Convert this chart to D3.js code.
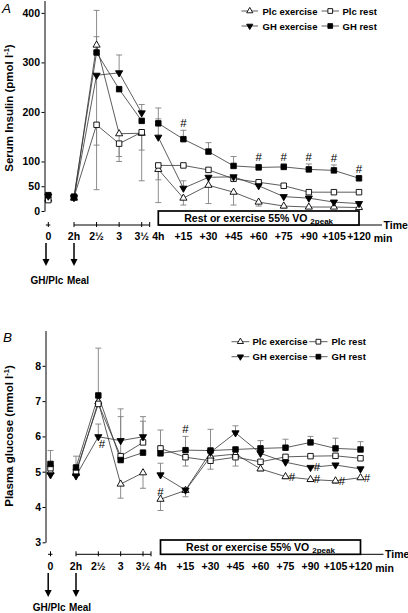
<!DOCTYPE html>
<html><head><meta charset="utf-8">
<script src="https://cdn.jsdelivr.net/npm/d3@7"></script>
<style>
html,body{margin:0;padding:0;background:#fff;}
svg{display:block;font-family:"Liberation Sans",Arial,sans-serif;}
</style></head><body>
<svg id="c" width="408" height="613"></svg>
<script>
// ---------- data ----------
const times = [0, 120, 150, 180, 210, 240, 255, 270, 285, 300, 315, 330, 345, 360]; // minutes
const tickLabels = ["0", "2h", "2½", "3", "3½", "4h", "+15", "+30", "+45", "+60", "+75", "+90", "+105", "+120"];
const lineSegments = [[0, 0], [120, 210], [240, 360]]; // connected time blocks
const seriesNames = ["Plc exercise", "Plc rest", "GH exercise", "GH rest"];
const insulinTicks = [0, 50, 100, 200, 300, 400];
const glucoseTicks = [3, 4, 5, 6, 7, 8];

// Serum insulin (pmol/l)
const insulinPlcExercise = [24, 26, 335, 156, 157, 84, 26, 52, 38, 18, 10, 8, 8, 7];
const insulinPlcRest     = [22, 28, 174, 136, 159, 92, 92, 83, 65, 58, 51, 38, 38, 38];
const insulinGHExercise  = [30, 27, 274, 279, 198, 149, 46, 68, 69, 51, 29, 26, 18, 15];
const insulinGHRest      = [32, 29, 320, 246, 182, 177, 145, 120, 91, 88, 89, 84, 82, 66];
const insulinPlcExerciseErrUp   = [0, 0, 70, 0, 0, 0, 0, 0, 0, 0, 0, 0, 0, 0];
const insulinPlcExerciseErrDown = [0, 4, 0, 46, 34, 21, 14, 37, 26, 8, 4, 3, 3, 3];
const insulinPlcRestErrUp       = [0, 0, 0, 0, 0, 0, 0, 0, 0, 0, 0, 0, 0, 0];
const insulinPlcRestErrDown     = [0, 6, 131, 36, 98, 75, 0, 0, 0, 0, 0, 0, 0, 0];
const insulinGHExerciseErrUp    = [0, 0, 0, 36, 17, 37, 15, 0, 0, 0, 0, 0, 0, 0];
const insulinGHExerciseErrDown  = [0, 0, 141, 0, 0, 0, 0, 0, 0, 0, 0, 0, 0, 0];
const insulinGHRestErrUp        = [0, 4, 32, 0, 0, 31, 18, 18, 19, 6, 6, 11, 11, 4];
const insulinGHRestErrDown      = [0, 0, 0, 0, 0, 0, 0, 0, 0, 0, 0, 0, 0, 0];
const insulinHashes = [
  {series: "GH rest", time: 255, place: "above"}, {series: "GH rest", time: 300, place: "above"},
  {series: "GH rest", time: 315, place: "above"}, {series: "GH rest", time: 330, place: "above"},
  {series: "GH rest", time: 345, place: "above"}, {series: "GH rest", time: 360, place: "above"}
];

// Plasma glucose (mmol/l)
const glucosePlcExercise = [5.0, 4.95, 6.98, 4.65, 4.97, 4.22, 4.47, 5.43, 5.5, 5.08, 4.86, 4.78, 4.74, 4.83];
const glucosePlcRest     = [5.1, 5.0, 6.92, 5.44, 5.83, 5.66, 5.41, 5.31, 5.41, 5.28, 5.42, 5.44, 5.45, 5.38];
const glucoseGHExercise  = [4.91, 4.88, 5.99, 5.88, 5.99, 4.91, 4.48, 5.55, 6.1, 5.52, 5.27, 5.12, 5.19, 5.08];
const glucoseGHRest      = [5.22, 5.12, 7.16, 5.33, 5.54, 5.52, 5.61, 5.6, 5.63, 5.66, 5.68, 5.83, 5.66, 5.63];
const glucosePlcExerciseErrUp   = [0, 0, 1.52, 0, 0, 0, 0, 0, 0, 0, 0, 0, 0, 0];
const glucosePlcExerciseErrDown = [0, 0, 0, 0.4, 0.44, 0.32, 0.18, 0, 0, 0.06, 0.06, 0.06, 0.07, 0.05];
const glucosePlcRestErrUp       = [0, 0, 0, 1.12, 0.6, 0.52, 0, 0, 0, 0, 0, 0, 0, 0];
const glucosePlcRestErrDown     = [0, 0, 0, 0, 0, 0, 0.25, 0.24, 0.25, 0, 0, 0, 0, 0];
const glucoseGHExerciseErrUp    = [0, 0, 0.36, 0.9, 0.57, 0.33, 0, 0, 0.2, 0, 0, 0, 0, 0];
const glucoseGHExerciseErrDown  = [0, 0, 0, 0, 0, 0, 0, 0, 0, 0, 0, 0, 0, 0];
const glucoseGHRestErrUp        = [0.38, 0.32, 0, 0, 0, 0, 0.39, 0.6, 0, 0.22, 0.24, 0.17, 0.29, 0.22];
const glucoseGHRestErrDown      = [0, 0, 0, 0, 0, 0, 0, 0, 0, 0, 0, 0, 0, 0];
const glucoseHashes = [
  {series: "GH exercise", time: 150, place: "belowright"},
  {series: "Plc exercise", time: 240, place: "above"},
  {series: "GH rest", time: 255, place: "above"},
  {series: "GH exercise", time: 330, place: "right"},
  {series: "Plc exercise", time: 315, place: "right"}, {series: "Plc exercise", time: 330, place: "right"},
  {series: "Plc exercise", time: 345, place: "right"}, {series: "Plc exercise", time: 360, place: "right"}
];

// ---------- drawing ----------
const svg = d3.select("#c");
const symbolStyles = {
  "Plc exercise": {type: d3.symbolTriangle, size: 22, fill: "#fff", rot: 0},
  "Plc rest":     {type: d3.symbolSquare, size: 30, fill: "#fff", rot: 0},
  "GH exercise":  {type: d3.symbolTriangle, size: 22, fill: "#000", rot: 180},
  "GH rest":      {type: d3.symbolSquare, size: 30, fill: "#000", rot: 0}
};

function drawMarker(g, name, cx, cy, scale) {
  const st = symbolStyles[name];
  g.append("path")
    .attr("d", d3.symbol().type(st.type).size(st.size * (scale || 1))())
    .attr("transform", `translate(${cx},${cy}) rotate(${st.rot})`)
    .attr("fill", st.fill).attr("stroke", "#000").attr("stroke-width", 0.9);
}

function drawPanel(p) {
  const g = svg.append("g");
  const x = p.x, y = p.y;

  // panel letter
  g.append("text").attr("x", p.letterPos[0]).attr("y", p.letterPos[1])
    .attr("font-size", 13.5).attr("font-style", "italic").text(p.letter);

  // y axis
  const ax = g.append("g").attr("transform", `translate(${p.yAxisX},0)`)
    .call(d3.axisLeft(y).tickValues(p.yTicks).tickFormat(d => String(d)).tickSize(3).tickSizeOuter(0).tickPadding(1.5));
  ax.select(".domain").attr("stroke", "#000").attr("stroke-width", 1);
  ax.selectAll(".tick line").attr("stroke", "#000").attr("stroke-width", 1);
  ax.selectAll(".tick text").attr("font-size", 10.5).attr("font-weight", "bold")
    .attr("font-family", "Liberation Sans, Arial, sans-serif").attr("fill", "#000");

  // y title
  const tt = g.append("text")
    .attr("transform", `translate(${p.titlePos[0]},${p.titlePos[1]}) rotate(-90)`)
    .attr("text-anchor", "middle").attr("font-size", 11.5).attr("font-weight", "bold");
  tt.append("tspan").text(p.title);
  tt.append("tspan").attr("font-size", 7.5).attr("dy", -4.5).text("-1");
  tt.append("tspan").attr("dy", 4.5).text(")");

  // broken x axis
  const axisY = p.xAxisY;
  const ax0 = x(lineSegments[0][0]);
  g.append("line").attr("x1", ax0 - 2.5).attr("x2", ax0 + 2).attr("y1", axisY).attr("y2", axisY).attr("stroke", "#000");
  g.append("line").attr("x1", ax0).attr("x2", ax0).attr("y1", axisY - 3).attr("y2", axisY + 2).attr("stroke", "#000");
  const s1a = x(lineSegments[1][0]), s1b = x(lineSegments[1][1]) + 8;
  g.append("line").attr("x1", s1a).attr("x2", s1b).attr("y1", axisY).attr("y2", axisY).attr("stroke", "#000");
  times.filter(t => t >= lineSegments[1][0] && t <= lineSegments[1][1]).map(x).concat([s1b]).forEach(px => {
    g.append("line").attr("x1", px).attr("x2", px).attr("y1", axisY - 3).attr("y2", axisY + 2).attr("stroke", "#000");
  });
  const s2a = x(lineSegments[2][0]), s2b = x(lineSegments[2][1]);
  g.append("line").attr("x1", s2a).attr("x2", s2b + 23).attr("y1", axisY).attr("y2", axisY).attr("stroke", "#000");
  g.append("text").attr("x", s2b + 24.5).attr("y", axisY + 4).attr("font-size", 10.5).attr("font-weight", "bold").text("Time");

  // rest / exercise box
  g.append("rect").attr("x", s2a).attr("y", p.boxTop).attr("width", s2b - s2a).attr("height", axisY - p.boxTop)
    .attr("fill", "#fff").attr("stroke", "#000").attr("stroke-width", 1.7);
  const bt = g.append("text").attr("x", (s2a + s2b) / 2).attr("y", axisY - 3.5).attr("text-anchor", "middle")
    .attr("font-size", 10.5).attr("font-weight", "bold");
  bt.append("tspan").text("Rest or exercise 55% VO ");
  bt.append("tspan").attr("font-size", 8).attr("dy", 2.5).text("2peak");

  // x tick labels
  times.forEach((t, i) => {
    g.append("text").attr("x", x(t)).attr("y", p.xLabelY).attr("text-anchor", "middle")
      .attr("font-size", 10.5).attr("font-weight", "bold").text(tickLabels[i]);
  });
  g.append("text").attr("x", x(times[times.length - 1]) + 24).attr("y", p.xLabelY + 2).attr("text-anchor", "middle")
    .attr("font-size", 10.5).attr("font-weight", "bold").text("min");

  // arrows
  [[times[0], "GH/Plc"], [times[1], "Meal"]].forEach(([t, lab], k) => {
    const ax_ = x(t) - (k === 0 ? 2.3 : 0);
    g.append("line").attr("x1", ax_).attr("x2", ax_).attr("y1", p.arrowTop).attr("y2", p.arrowTip - 6)
      .attr("stroke", "#000").attr("stroke-width", 1.5);
    g.append("path").attr("d", `M${ax_ - 3.5},${p.arrowTip - 7}L${ax_ + 3.5},${p.arrowTip - 7}L${ax_},${p.arrowTip}Z`).attr("fill", "#000");
    g.append("text").attr("x", k === 0 ? ax_ + 1 : ax_ + 4).attr("y", p.arrowLabelY).attr("text-anchor", "middle")
      .attr("font-size", 10).attr("font-weight", "bold").text(lab);
  });

  // error bars
  const eg = g.append("g").attr("stroke", "#808080").attr("stroke-width", 0.9);
  p.series.forEach(s => {
    s.values.forEach((v, i) => {
      const cx = x(times[i]);
      [[s.errUp[i], 1], [s.errDown[i], -1]].forEach(([e, dir]) => {
        if (!e) return;
        const yy = y(v + dir * e);
        eg.append("line").attr("x1", cx).attr("x2", cx).attr("y1", y(v)).attr("y2", yy);
        eg.append("line").attr("x1", cx - 3).attr("x2", cx + 3).attr("y1", yy).attr("y2", yy);
      });
    });
  });

  // lines
  const line = d3.line().x(d => x(d.t)).y(d => y(d.v));
  p.series.forEach(s => {
    lineSegments.forEach(([a, b]) => {
      const pts = times.map((t, i) => ({t, v: s.values[i]})).filter(d => d.t >= a && d.t <= b);
      if (pts.length > 1) g.append("path").attr("d", line(pts)).attr("fill", "none")
        .attr("stroke", "#333").attr("stroke-width", 0.8);
    });
  });

  // markers
  p.series.forEach(s => {
    s.values.forEach((v, i) => drawMarker(g, s.name, x(times[i]), y(v)));
  });

  // hashes
  p.hashes.forEach(h => {
    const s = p.series.find(d => d.name === h.series);
    const i = times.indexOf(h.time);
    const cx = x(h.time), cy = y(s.values[i]);
    let tx = cx, ty;
    if (h.place === "above") ty = y(s.values[i] + s.errUp[i]) - 3;
    else if (h.place === "right") { tx = cx + 6.5; ty = cy + 4; }
    else { tx = cx + 3.5; ty = cy + 11; }
    g.append("text").attr("x", tx).attr("y", ty).attr("text-anchor", "middle")
      .attr("font-size", 11.5).attr("fill", "#000").text("#");
  });

  // legend
  p.legend.forEach((L, k) => {
    const name = seriesNames[k];
    g.append("line").attr("x1", L[0]).attr("x2", L[1]).attr("y1", L[3]).attr("y2", L[3]).attr("stroke", "#333").attr("stroke-width", 0.8);
    drawMarker(g, name, (L[0] + L[1]) / 2, L[3], 0.75);
    g.append("text").attr("x", L[2]).attr("y", L[3] + 3.5).attr("font-size", 9.5).attr("font-weight", "bold").text(name);
  });
}

function mkSeries(prefix) {
  const src = {
    insulin: [[insulinPlcExercise, insulinPlcExerciseErrUp, insulinPlcExerciseErrDown],
              [insulinPlcRest, insulinPlcRestErrUp, insulinPlcRestErrDown],
              [insulinGHExercise, insulinGHExerciseErrUp, insulinGHExerciseErrDown],
              [insulinGHRest, insulinGHRestErrUp, insulinGHRestErrDown]],
    glucose: [[glucosePlcExercise, glucosePlcExerciseErrUp, glucosePlcExerciseErrDown],
              [glucosePlcRest, glucosePlcRestErrUp, glucosePlcRestErrDown],
              [glucoseGHExercise, glucoseGHExerciseErrUp, glucoseGHExerciseErrDown],
              [glucoseGHRest, glucoseGHRestErrUp, glucoseGHRestErrDown]]
  }[prefix];
  return seriesNames.map((n, k) => ({name: n, values: src[k][0], errUp: src[k][1], errDown: src[k][2]}));
}

const timeBreaks = [0, 120, 210, 240, 360];

drawPanel({
  letter: "A", letterPos: [2, 13],
  x: d3.scaleLinear().domain(timeBreaks).range([48.3, 74, 141.7, 158.3, 359]),
  y: d3.scaleLinear().domain([0, 425]).range([211, 0.5]),
  yAxisX: 44.5, yTicks: insulinTicks,
  title: "Serum Insulin (pmol l", titlePos: [13, 108],
  xAxisY: 225, boxTop: 211, xLabelY: 240,
  arrowTop: 243, arrowTip: 266, arrowLabelY: 284,
  series: mkSeries("insulin"), hashes: insulinHashes,
  legend: [[241.5, 258, 262.5, 11], [321.5, 339, 342.5, 11], [241.5, 258, 262.5, 26], [321.5, 339, 342.5, 26]]
});

drawPanel({
  letter: "B", letterPos: [3, 342],
  x: d3.scaleLinear().domain(timeBreaks).range([50.5, 76, 143, 160.5, 360.5]),
  y: d3.scaleLinear().domain([3, 9]).range([542.3, 330.5]),
  yAxisX: 45.5, yTicks: glucoseTicks,
  title: "Plasma glucose (mmol l", titlePos: [13, 436],
  xAxisY: 554.3, boxTop: 540, xLabelY: 569.5,
  arrowTop: 573, arrowTip: 597, arrowLabelY: 611,
  series: mkSeries("glucose"), hashes: glucoseHashes,
  legend: [[231.5, 249.3, 252.5, 341.7], [309.3, 327.5, 331.5, 341.7], [231.5, 249.3, 252.5, 356.7], [309.3, 327.5, 331.5, 356.7]]
});
</script>
</body></html>
